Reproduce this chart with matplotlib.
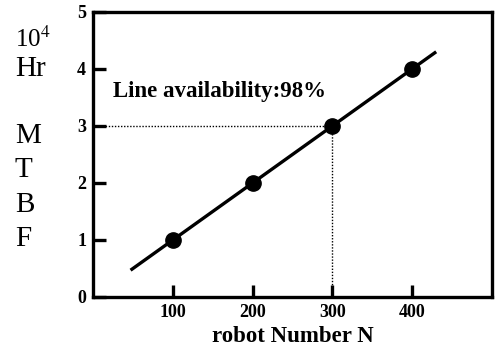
import matplotlib
matplotlib.use('Agg')
import matplotlib.pyplot as plt

robots = [100, 200, 300, 400]
mtbf = [1, 2, 3, 4]
fit_x = [47, 430]
fit_y = [0.47, 4.30]
mark_x = 300
mark_y = 3

plt.rcParams['font.family'] = ['Liberation Serif', 'DejaVu Serif']
plt.rcParams['mathtext.fontset'] = 'stix'

fig = plt.figure(figsize=(4.95, 3.49), dpi=100)
ax = fig.add_axes([0.188, 0.149, 0.806, 0.817])

ax.plot(fit_x, fit_y, c='black', lw=2.4, solid_capstyle='butt')
ax.plot(robots, mtbf, 'o', c='black', ms=11)
ax.plot([0, mark_x], [mark_y, mark_y], c='black', lw=1, ls=(0, (1, 1.2)))
ax.plot([mark_x, mark_x], [0, mark_y], c='black', lw=1, ls=(0, (1, 1.2)))

ax.set_xlim(0, 500)
ax.set_ylim(0, 5)
ax.set_xticks([100, 200, 300, 400])
ax.set_yticks([0, 1, 2, 3, 4, 5])
ax.tick_params(direction='in', length=9, width=2.4, labelsize=13, pad=5)
for lab in ax.get_xticklabels() + ax.get_yticklabels():
    lab.set_fontweight('bold')
for s in ax.spines.values():
    s.set_linewidth(2.4)

ax.text(25, 3.6, 'Line availability:98%', fontsize=16.5, fontweight='bold', va='center')
ax.set_xlabel('robot Number N', fontsize=16.5, fontweight='bold', labelpad=4)

fig.text(0.03, 0.888, '10$^4$', fontsize=18, va='center')
fig.text(0.03, 0.802, 'Hr', fontsize=21, va='center')
for i, ch in enumerate('MTBF'):
    fig.text(0.03, 0.61 - i * 0.098, ch, fontsize=21, va='center')

fig.savefig('out.png', dpi=100)
